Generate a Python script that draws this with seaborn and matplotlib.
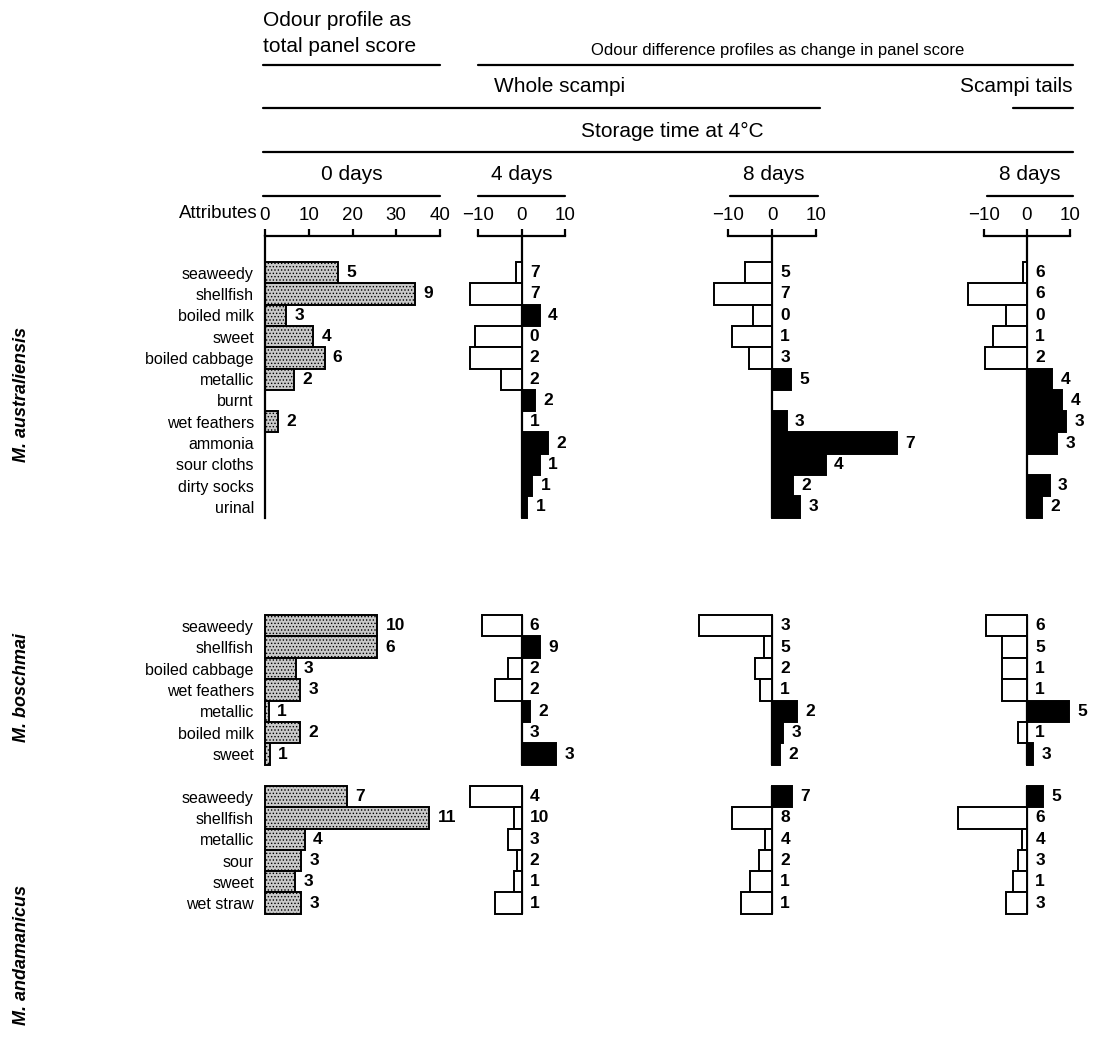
import matplotlib

matplotlib.use("Agg")

import matplotlib.pyplot as plt
import pandas as pd
import seaborn as sns
from matplotlib.lines import Line2D

FIG_W, FIG_H = 1102, 1042

SPECIES = ["M. australiensis", "M. boschmai", "M. andamanicus"]

AUS_ATTRIBUTES = [
    "seaweedy", "shellfish", "boiled milk", "sweet", "boiled cabbage",
    "metallic", "burnt", "wet feathers", "ammonia", "sour cloths",
    "dirty socks", "urinal",
]
AUS_DAY0 = [16.6, 34.3, 4.9, 11.0, 13.6, 6.6, 0, 3.0, 0, 0, 0, 0]
AUS_DAY0_N = ["5", "9", "3", "4", "6", "2", "", "2", "", "", "", ""]
AUS_DAY4 = [-1.3, -11.8, 4.2, -10.8, -11.8, -4.8, 3.2, 0, 6.1, 4.2, 2.5, 1.3]
AUS_DAY4_N = ["7", "7", "4", "0", "2", "2", "2", "1", "2", "1", "1", "1"]
AUS_DAY8 = [-6.1, -13.2, -4.4, -9.2, -5.2, 4.3, 0, 3.3, 28.3, 12.2, 4.8, 6.4]
AUS_DAY8_N = ["5", "7", "0", "1", "3", "5", "", "3", "7", "4", "2", "3"]
AUS_TAILS = [-1.0, -13.7, -4.9, -7.8, -9.8, 5.9, 8.2, 9.1, 7.0, 0, 5.3, 3.4]
AUS_TAILS_N = ["6", "6", "0", "1", "2", "4", "4", "3", "3", "", "3", "2"]

BOS_ATTRIBUTES = [
    "seaweedy", "shellfish", "boiled cabbage", "wet feathers",
    "metallic", "boiled milk", "sweet",
]
BOS_DAY0 = [25.7, 25.7, 7.0, 8.0, 0.8, 8.1, 1.1]
BOS_DAY0_N = ["10", "6", "3", "3", "1", "2", "1"]
BOS_DAY4 = [-9.0, 4.2, -3.1, -6.0, 1.9, 0, 8.0]
BOS_DAY4_N = ["6", "9", "2", "2", "2", "3", "3"]
BOS_DAY8 = [-16.5, -1.8, -3.8, -2.7, 5.6, 2.6, 1.8]
BOS_DAY8_N = ["3", "5", "2", "1", "2", "3", "2"]
BOS_TAILS = [-9.5, -5.9, -5.9, -5.9, 9.8, -2.0, 1.5]
BOS_TAILS_N = ["6", "5", "1", "1", "5", "1", "3"]

AND_ATTRIBUTES = ["seaweedy", "shellfish", "metallic", "sour", "sweet", "wet straw"]
AND_DAY0 = [18.8, 37.5, 9.1, 8.2, 6.9, 8.2]
AND_DAY0_N = ["7", "11", "4", "3", "3", "3"]
AND_DAY4 = [-11.9, -1.7, -3.0, -1.1, -1.7, -6.2]
AND_DAY4_N = ["4", "10", "3", "2", "1", "1"]
AND_DAY8 = [4.6, -9.1, -1.6, -3.0, -5.0, -7.0]
AND_DAY8_N = ["7", "8", "4", "2", "1", "1"]
AND_TAILS = [3.7, -16.0, -1.2, -2.1, -3.3, -4.9]
AND_TAILS_N = ["5", "6", "4", "3", "1", "3"]

BLOCKS = [
    (AUS_ATTRIBUTES, [(AUS_DAY0, AUS_DAY0_N), (AUS_DAY4, AUS_DAY4_N),
                      (AUS_DAY8, AUS_DAY8_N), (AUS_TAILS, AUS_TAILS_N)]),
    (BOS_ATTRIBUTES, [(BOS_DAY0, BOS_DAY0_N), (BOS_DAY4, BOS_DAY4_N),
                      (BOS_DAY8, BOS_DAY8_N), (BOS_TAILS, BOS_TAILS_N)]),
    (AND_ATTRIBUTES, [(AND_DAY0, AND_DAY0_N), (AND_DAY4, AND_DAY4_N),
                      (AND_DAY8, AND_DAY8_N), (AND_TAILS, AND_TAILS_N)]),
]

# pixel placement of the four columns and three species blocks
COLUMNS = [(265, 440, (0, 40)), (478, 565, (-10, 10)),
           (728, 816, (-10, 10)), (984, 1070, (-10, 10))]
ROW_TOPS = [262, 615, 786]
ROW_H = [21.3, 21.4, 21.3]
BRACKET_Y = 236
SPECIES_Y = [395, 688, 955]


def fx(px):
    return px / FIG_W


def fy(py):
    return 1 - py / FIG_H


sns.set_theme(style="white")
plt.rcParams["font.family"] = ["Liberation Sans", "DejaVu Sans"]
plt.rcParams["hatch.linewidth"] = 0.6
for key in ("text.color", "axes.labelcolor", "xtick.color", "ytick.color"):
    plt.rcParams[key] = "black"

fig = plt.figure(figsize=(FIG_W / 100, FIG_H / 100), dpi=100)


def hline(x0, x1, y):
    fig.add_artist(Line2D([fx(x0), fx(x1)], [fy(y), fy(y)],
                          transform=fig.transFigure, color="black", lw=1.6))


for b, (attributes, panels) in enumerate(BLOCKS):
    n = len(attributes)
    top = ROW_TOPS[b]
    bottom = top + n * ROW_H[b]
    ax_top = BRACKET_Y if b == 0 else top
    extra = (top - ax_top) / ROW_H[b]
    for c, (values, labels) in enumerate(panels):
        left, right, xlim = COLUMNS[c]
        ax = fig.add_axes([fx(left), fy(bottom), (right - left) / FIG_W,
                           (bottom - ax_top) / FIG_H])
        frame = pd.DataFrame({"attribute": attributes, "value": values})
        if c == 0:
            sns.barplot(data=frame, x="value", y="attribute", order=attributes,
                        color="#c9c9c9", width=1.0, errorbar=None,
                        edgecolor="black", linewidth=1.4, orient="h", ax=ax)
            for patch in ax.patches:
                patch.set_hatch(".....")
        else:
            frame["direction"] = ["up" if v > 0 else "down" for v in values]
            sns.barplot(data=frame, x="value", y="attribute", order=attributes,
                        hue="direction", hue_order=["up", "down"],
                        palette={"up": "black", "down": "white"}, dodge=False,
                        width=1.0, errorbar=None, edgecolor="black",
                        linewidth=1.4, orient="h", legend=False, ax=ax)
            ax.axvline(0, color="black", lw=1.6, zorder=0.5)
        for patch in ax.patches:
            patch.set_clip_on(False)

        for i, (v, lab) in enumerate(zip(values, labels)):
            if lab:
                ax.annotate(lab, (max(v, 0), i), xytext=(6, 0),
                            textcoords="offset points", ha="left", va="center",
                            fontsize=12.5, fontweight="bold", annotation_clip=False)

        ax.set_xlim(*xlim)
        ax.set_ylim(n - 0.5, -0.5 - extra)
        ax.set_xlabel("")
        ax.set_ylabel("")
        for side in ("right", "bottom", "left", "top"):
            ax.spines[side].set_visible(False)
        ax.spines["left"].set_linewidth(1.6)
        ax.spines["top"].set_linewidth(1.6)
        ax.spines["left"].set_color("black")
        ax.spines["top"].set_color("black")

        if c == 0:
            ax.tick_params(axis="y", length=0, pad=8, labelsize=11.5)
        else:
            ax.set_yticks([])

        if b == 0:
            ax.spines["top"].set_visible(True)
            if c == 0:
                ax.spines["left"].set_visible(True)
            ax.xaxis.tick_top()
            ticks = [0, 10, 20, 30, 40] if c == 0 else [-10, 0, 10]
            ax.set_xticks(ticks)
            ax.tick_params(axis="x", direction="out", length=5, width=1.6,
                           color="black", labelsize=13.5, pad=4, top=True,
                           bottom=False)
        else:
            ax.set_xticks([])

    fig.text(fx(22), fy(SPECIES_Y[b]), SPECIES[b], rotation=90, ha="center",
             va="center", fontsize=13, fontstyle="italic", fontweight="bold")

# header block
fig.text(fx(258), fy(214), "Attributes", ha="right", va="center", fontsize=13.5)
fig.text(fx(263), fy(21), "Odour profile as", ha="left", va="center", fontsize=15)
fig.text(fx(263), fy(46), "total panel score", ha="left", va="center", fontsize=15)
hline(263, 440, 65)
fig.text(fx(778), fy(50), "Odour difference profiles as change in panel score",
         ha="center", va="center", fontsize=12)
hline(478, 1073, 65)
fig.text(fx(560), fy(87), "Whole scampi", ha="center", va="center", fontsize=15)
hline(263, 820, 108)
fig.text(fx(1073), fy(87), "Scampi tails", ha="right", va="center", fontsize=15)
hline(1013, 1073, 108)
fig.text(fx(672), fy(131), "Storage time at 4\u00b0C", ha="center", va="center",
         fontsize=15)
hline(263, 1073, 152)
for label, x0, x1 in [("0 days", 263, 440), ("4 days", 478, 565),
                      ("8 days", 730, 818), ("8 days", 987, 1073)]:
    fig.text(fx((x0 + x1) / 2), fy(175), label, ha="center", va="center",
             fontsize=15)
    hline(x0, x1, 196)

fig.savefig("out.png", dpi=100)
